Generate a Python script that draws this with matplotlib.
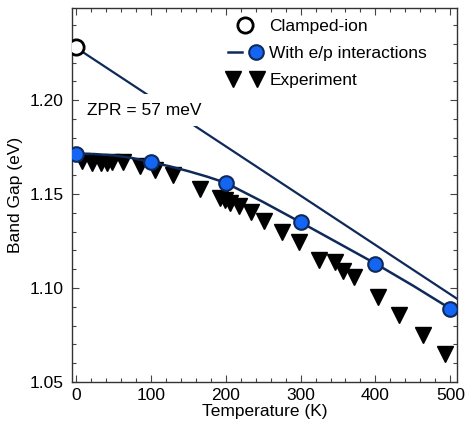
import numpy as np
import matplotlib
matplotlib.use("Agg")
import matplotlib.pyplot as plt
from matplotlib.legend_handler import HandlerLine2D, HandlerTuple

plt.rcParams['font.family'] = ['Liberation Sans', 'DejaVu Sans']

# clamped-ion gap at 0 K and the straight guide line starting from it
clamped_T = [0]
clamped_gap = [1.228]
guide_T = [0, 510]
guide_gap = [1.228, 1.094]

# renormalized gap (computed points and the smooth curve through them)
ep_T = [0, 100, 200, 300, 400, 500]
ep_gap = [1.1715, 1.167, 1.156, 1.135, 1.113, 1.089]
curve_T = [0, 25, 50, 75, 100, 125, 150, 175, 200, 250, 300, 350, 400, 450, 500]
curve_gap = [1.1715, 1.1713, 1.1706, 1.1692, 1.167, 1.1648, 1.1622, 1.1593, 1.156,
             1.1458, 1.135, 1.124, 1.113, 1.1013, 1.089]

# measured gap
exp_T = [8, 21, 34, 41, 48, 63, 86, 106, 130, 166, 193, 199, 206, 218, 234, 251,
         275, 298, 324, 346, 357, 371, 404, 432, 464, 493]
exp_gap = [1.1675, 1.1665, 1.1665, 1.1665, 1.167, 1.167, 1.1652, 1.1626, 1.160,
           1.1525, 1.1481, 1.1469, 1.1451, 1.1435, 1.1403, 1.1358, 1.1297, 1.1243,
           1.1148, 1.1137, 1.1091, 1.1058, 1.0954, 1.0858, 1.0752, 1.0651]

navy = '#0f2a5a'
blue = '#1565f5'
fs = 12.5

fig = plt.figure(figsize=(4.65, 4.23), dpi=100)
ax = fig.add_axes([0.155, 0.097, 0.828, 0.884])

exp_h, = ax.plot(exp_T, exp_gap, ls='none', marker='v', ms=11.5, color='black',
                 zorder=2, label='Experiment')
ax.plot(guide_T, guide_gap, color=navy, lw=1.6, zorder=3)
curve_h, = ax.plot(curve_T, curve_gap, color=navy, lw=1.8, zorder=3)
pts_h, = ax.plot(ep_T, ep_gap, ls='none', marker='o', ms=10.5, mfc=blue,
                 mec=navy, mew=1.5, zorder=5)
ci_h, = ax.plot(clamped_T, clamped_gap, ls='none', marker='o', ms=11, mfc='white',
                mec='black', mew=2.0, zorder=5, label='Clamped-ion')

ax.text(92, 1.1947, 'ZPR = 57 meV', fontsize=fs, ha='center', va='center',
        zorder=4, bbox=dict(facecolor='white', edgecolor='none', pad=6))

ax.set_xlim(-5, 509)
ax.set_ylim(1.05, 1.249)
ax.set_xticks(np.arange(0, 501, 100))
ax.set_xticks(np.arange(0, 509, 20), minor=True)
ax.set_yticks([1.05, 1.10, 1.15, 1.20])
ax.set_yticks(np.arange(1.05, 1.249, 0.01), minor=True)
ax.set_yticklabels(['1.05', '1.10', '1.15', '1.20'])

ax.tick_params(which='both', direction='in', top=True, right=True,
               width=0.8, color='#444444', labelsize=fs)
ax.tick_params(which='major', length=5)
ax.tick_params(which='minor', length=3)
ax.tick_params(axis='x', pad=4)
ax.tick_params(axis='y', pad=6)
for sp in ax.spines.values():
    sp.set_color('#333333')
    sp.set_linewidth(1.0)

ax.set_xlabel('Temperature (K)', fontsize=fs, labelpad=1)
ax.set_ylabel('Band Gap (eV)', fontsize=fs, labelpad=5)

ax.legend([ci_h, (curve_h, pts_h), exp_h],
          ['Clamped-ion', 'With e/p interactions', 'Experiment'],
          handler_map={exp_h: HandlerLine2D(numpoints=2),
                       ci_h: HandlerLine2D(numpoints=1),
                       tuple: HandlerTuple(ndivide=None)},
          loc='upper right', bbox_to_anchor=(0.963, 1.012), frameon=False,
          fontsize=fs, handletextpad=0.4, labelspacing=0.68)

fig.savefig('out.png', dpi=100)
